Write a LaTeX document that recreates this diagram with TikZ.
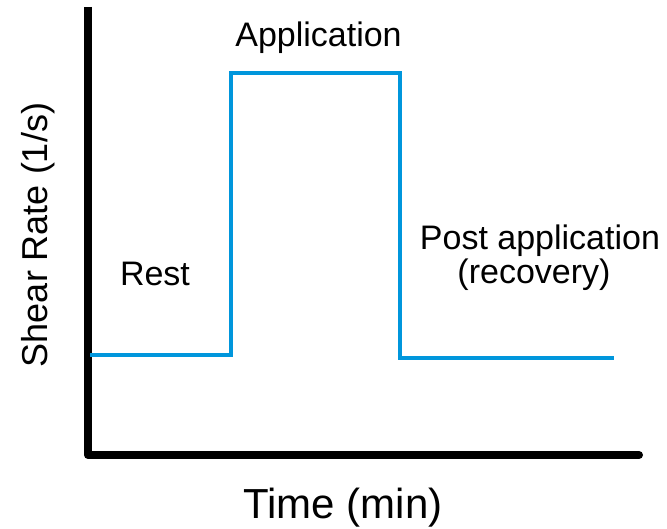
\documentclass[tikz,border=0pt]{standalone}
\usepackage{fontspec}
\setmainfont{Liberation Sans}
\definecolor{stepblue}{RGB}{0,150,220}
\begin{document}
\begin{tikzpicture}[x=1pt,y=-1pt,
  axisline/.style={line width=8pt,black},
  profile/.style={line width=4pt,stepblue},
  lbl/.style={anchor=base,inner sep=0pt,font=\fontsize{34}{40}\selectfont},
  axlbl/.style={inner sep=0pt,font=\fontsize{42}{48}\selectfont}]
\useasboundingbox (0,0) rectangle (667,529);
% axes
\coordinate (top) at (88,7);
\coordinate (origin) at (88,455);
\coordinate (xend) at (639,455);
\draw[axisline] (top) -- (origin);
\draw[axisline,line cap=round] (origin) -- (xend);
% shear-rate step profile
\coordinate (p0) at (90,355);
\coordinate (p1) at (231,355);
\coordinate (p2) at (231,73);
\coordinate (p3) at (399.5,73);
\coordinate (p4) at (399.5,358.5);
\coordinate (p5) at (614,358.5);
\draw[profile] (p0) -- (p1) -- (p2) -- (p3) -- (p4) -- (p5);
% labels
\node[lbl] (app) at (318.5,46.5) {Application};
\node[lbl] (rest) at (155,285.5) {Rest};
\node[lbl] (post) at (540,250) {Post application};
\node[lbl] (rec) at (534,284) {(recovery)};
\node[axlbl,anchor=base] (tlbl) at (343,518) {Time (min)};
\node[axlbl,anchor=base,rotate=90,font=\fontsize{36}{42}\selectfont] (ylbl) at (47,235) {Shear Rate (1/s)};
\end{tikzpicture}
\end{document}
